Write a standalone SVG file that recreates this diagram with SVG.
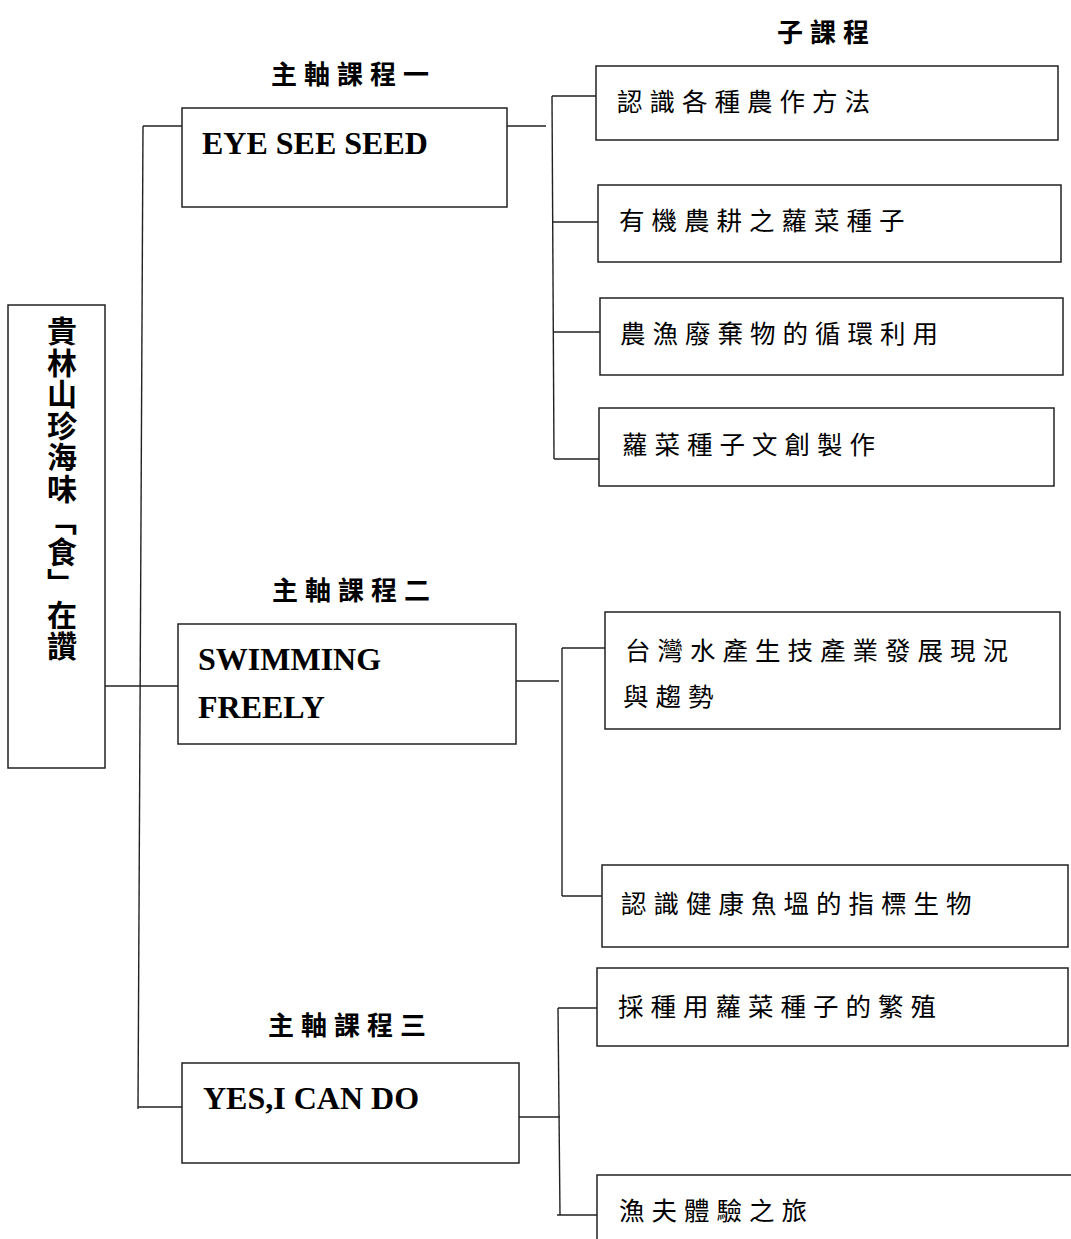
<svg xmlns="http://www.w3.org/2000/svg" width="1071" height="1239" viewBox="0 0 1071 1239">
<style>
.box{fill:#fff;stroke:#222;stroke-width:1.5}
.ln{fill:none;stroke:#222;stroke-width:1.4}
.en{font-family:"Liberation Serif","Times New Roman",serif;font-weight:bold;font-size:32px;fill:#000}
.lab{font-family:"Noto Sans CJK TC","Noto Sans CJK SC",sans-serif;font-weight:bold;font-size:26px;letter-spacing:7px;fill:#000}
.sub{font-family:"Liberation Serif","Noto Sans CJK TC","Noto Sans CJK SC",serif;font-size:25.5px;letter-spacing:7px;fill:#000}
.root{font-family:"Noto Sans CJK TC","Noto Sans CJK SC",sans-serif;font-weight:bold;font-size:30px;letter-spacing:1.5px;fill:#000}
</style>
<rect width="1071" height="1239" fill="#fff"/>

<g id="connectors">
  <path class="ln" d="M143,126 L138,1109"/>
  <path class="ln" d="M143,126 H182"/>
  <path class="ln" d="M105,686 H178"/>
  <path class="ln" d="M138,1107 H182"/>
  <path class="ln" d="M507,126 H546"/>
  <path class="ln" d="M552,96 L554,459"/>
  <path class="ln" d="M552,96 H596"/>
  <path class="ln" d="M553,222 H598"/>
  <path class="ln" d="M554,332 H600"/>
  <path class="ln" d="M554,459 H599"/>
  <path class="ln" d="M516,681 H559"/>
  <path class="ln" d="M562,648 V896"/>
  <path class="ln" d="M562,648 H605"/>
  <path class="ln" d="M562,896 H602"/>
  <path class="ln" d="M519,1117 H560"/>
  <path class="ln" d="M558,1008 L560,1215"/>
  <path class="ln" d="M558,1008 H597"/>
  <path class="ln" d="M557,1215 H597"/>
</g>

<g id="root">
  <rect class="box" x="8" y="305" width="97" height="463"/>
  <text class="root" x="62" y="316" writing-mode="vertical-rl">貴林山珍海味「食」在讚</text>
</g>

<g id="label-sub">
  <text class="lab" x="777" y="42">子課程</text>
</g>

<g id="main1">
  <text class="lab" x="271" y="84">主軸課程一</text>
  <rect class="box" x="182" y="108" width="325" height="99"/>
  <text class="en" x="202" y="154">EYE SEE SEED</text>
</g>

<g id="main2">
  <text class="lab" x="272" y="600">主軸課程二</text>
  <rect class="box" x="178" y="624" width="338" height="120"/>
  <text class="en" x="198" y="670">SWIMMING</text>
  <text class="en" x="198" y="718">FREELY</text>
</g>

<g id="main3">
  <text class="lab" x="268" y="1035">主軸課程三</text>
  <rect class="box" x="182" y="1063" width="337" height="100"/>
  <text class="en" x="203" y="1109">YES,I CAN DO</text>
</g>

<g id="sub1">
  <rect class="box" x="596" y="66" width="462" height="74"/>
  <text class="sub" x="617" y="111">認識各種農作方法</text>
</g>
<g id="sub2">
  <rect class="box" x="598" y="185" width="463" height="77"/>
  <text class="sub" x="619" y="230">有機農耕之蘿菜種子</text>
</g>
<g id="sub3">
  <rect class="box" x="600" y="298" width="463" height="77"/>
  <text class="sub" x="620" y="343">農漁廢棄物的循環利用</text>
</g>
<g id="sub4">
  <rect class="box" x="599" y="408" width="455" height="78"/>
  <text class="sub" x="622" y="454">蘿菜種子文創製作</text>
</g>

<g id="sub5">
  <rect class="box" x="605" y="612" width="455" height="117"/>
  <text class="sub" x="625" y="660">台灣水產生技產業發展現況</text>
  <text class="sub" x="623" y="706">與趨勢</text>
</g>
<g id="sub6">
  <rect class="box" x="602" y="865" width="466" height="82"/>
  <text class="sub" x="621" y="913">認識健康魚塭的指標生物</text>
</g>

<g id="sub7">
  <rect class="box" x="597" y="968" width="471" height="78"/>
  <text class="sub" x="618" y="1016">採種用蘿菜種子的繁殖</text>
</g>
<g id="sub8">
  <rect class="box" x="597" y="1175" width="500" height="100"/>
  <text class="sub" x="619" y="1220">漁夫體驗之旅</text>
</g>
</svg>
